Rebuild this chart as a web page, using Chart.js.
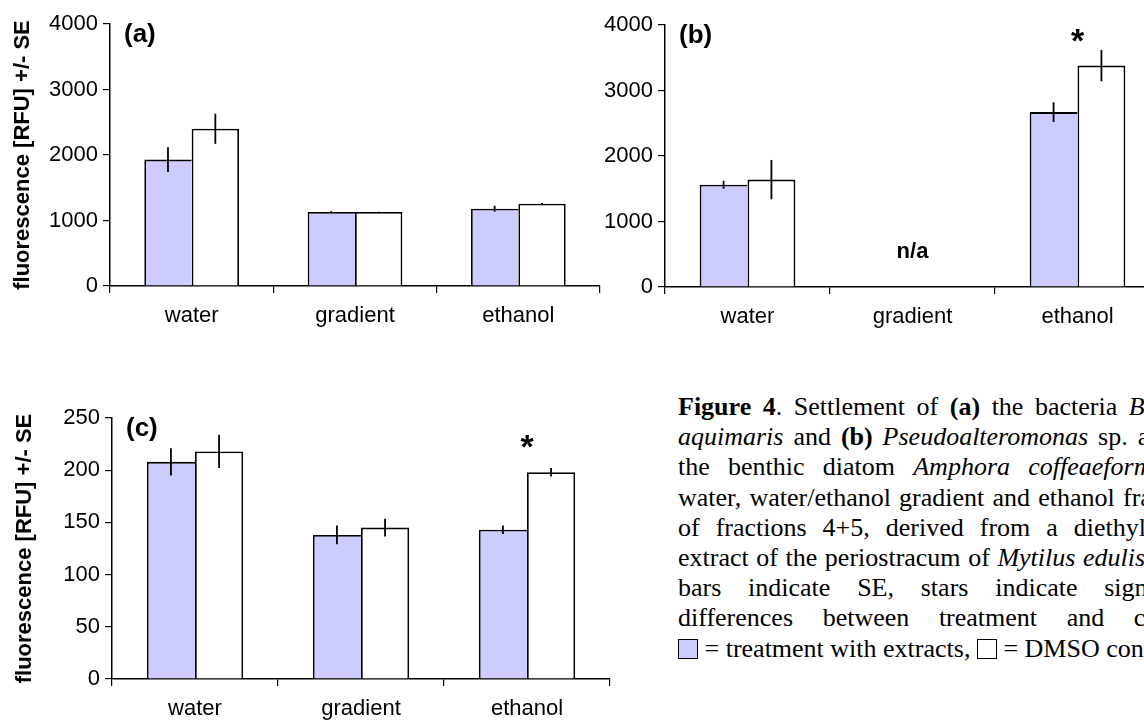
<!DOCTYPE html>
<html>
<head>
<meta charset="utf-8">
<script src="https://cdn.jsdelivr.net/npm/chart.js@4.4.1/dist/chart.umd.min.js"></script>
<style>
  html, body { margin: 0; padding: 0; background: #fff; }
  body { width: 1144px; height: 725px; overflow: hidden; position: relative; }
  canvas { position: absolute; }
  #chartA { left: 0px; top: 0px; }
  #chartB { left: 555px; top: 0px; }
  #chartC { left: 2px; top: 370px; }
  #caption {
    position: absolute; left: 678px; top: 392px; width: 536px;
    font-family: "Liberation Serif", "Times New Roman", serif; font-size: 26px; color: #000;
  }
  #caption .ln { height: 30.2px; line-height: 30.2px; text-align: justify; text-align-last: justify; }
  #caption .ln.last { text-align: left; text-align-last: left; }
  .box { display: inline-block; width: 20px; height: 20px; border: 1.5px solid #000; box-sizing: border-box; vertical-align: -2px; background: #fff; }
  .box.lav { background: #ccccff; }
</style>
</head>
<body>
<canvas id="chartA" width="620" height="345"></canvas>
<canvas id="chartB" width="615" height="345"></canvas>
<canvas id="chartC" width="630" height="355"></canvas>

<div id="caption">
  <div class="ln"><b>Figure 4</b>. Settlement of <b>(a)</b> the bacteria <i>Bacillus</i></div>
  <div class="ln"><i>aquimaris</i> and <b>(b)</b> <i>Pseudoalteromonas</i> sp. and <b>(c)</b></div>
  <div class="ln">the benthic diatom <i>Amphora coffeaeformis</i> on</div>
  <div class="ln">water, water/ethanol gradient and ethanol fractions</div>
  <div class="ln">of fractions 4+5, derived from a diethyl ether</div>
  <div class="ln">extract of the periostracum of <i>Mytilus edulis</i>. Error</div>
  <div class="ln">bars indicate SE, stars indicate significant</div>
  <div class="ln">differences between treatment and control.</div>
  <div class="ln last"><span class="box lav"></span> = treatment with extracts, <span class="box"></span> = DMSO control.</div>
</div>

<script>
const categories = ["water", "gradient", "ethanol"];

// (a) bacteria
const aTreatment = [1930, 1130, 1180];
const aTreatmentSE = [190, 12, 45];
const aControl = [2400, 1130, 1255];
const aControlSE = [230, 4, 12];

// (b) Pseudoalteromonas, no gradient fraction
const bTreatment = [1560, null, 2670];
const bTreatmentSE = [60, null, 150];
const bControl = [1640, null, 3380];
const bControlSE = [300, null, 240];
const bStars = ["", "", "*"];
const bNotes = ["", "n/a", ""];

// (c) diatom
const cTreatment = [208, 138, 143];
const cTreatmentSE = [13, 9, 4];
const cControl = [218, 145, 198];
const cControlSE = [16, 8.5, 4];
const cStars = ["", "", "*"];

const ticksAB = [0, 1000, 2000, 3000, 4000];
const ticksC = [0, 50, 100, 150, 200, 250];

const FONT = '"Liberation Sans", Arial, sans-serif';
Chart.defaults.font.family = FONT;
Chart.defaults.color = "#000";

const errorBars = {
  id: "errorBars",
  afterDatasetsDraw(chart) {
    const ctx = chart.ctx;
    const y = chart.scales.y;
    chart.data.datasets.forEach((ds, i) => {
      const meta = chart.getDatasetMeta(i);
      meta.data.forEach((bar, j) => {
        const v = ds.data[j];
        const e = ds.errors[j];
        if (v == null || e == null) return;
        ctx.save();
        ctx.strokeStyle = "#000";
        ctx.lineWidth = 1.8;
        ctx.beginPath();
        ctx.moveTo(bar.x, y.getPixelForValue(v + e));
        ctx.lineTo(bar.x, y.getPixelForValue(v - e));
        ctx.stroke();
        ctx.restore();
      });
    });
  },
};

const marks = {
  id: "marks",
  afterDraw(chart, args, opts) {
    const ctx = chart.ctx;
    const area = chart.chartArea;
    const x = chart.scales.x;
    const y = chart.scales.y;
    ctx.save();
    ctx.fillStyle = "#000";
    ctx.textBaseline = "alphabetic";
    // panel letter
    ctx.font = "bold 26px " + FONT;
    ctx.textAlign = "left";
    ctx.fillText(opts.label, area.left + 14, area.top + 18);
    ctx.textAlign = "center";
    // significance stars above the taller bar
    (opts.stars || []).forEach((s, i) => {
      if (!s) return;
      let top = 0;
      chart.data.datasets.forEach((ds) => {
        if (ds.data[i] != null) top = Math.max(top, ds.data[i]);
      });
      ctx.font = "bold 34px " + FONT;
      ctx.fillText(s, x.getPixelForValue(i), y.getPixelForValue(top) - 14);
    });
    (opts.notes || []).forEach((s, i) => {
      if (!s) return;
      ctx.font = "bold 22px " + FONT;
      ctx.fillText(s, x.getPixelForValue(i), y.getPixelForValue(0) - 29);
    });
    ctx.restore();
  },
};

function makeChart(id, treat, treatSE, ctrl, ctrlSE, yTicks, opt) {
  const ctx = document.getElementById(id).getContext("2d");
  const canvasH = ctx.canvas.height;
  return new Chart(ctx, {
    type: "bar",
    plugins: [errorBars, marks],
    data: {
      labels: categories,
      datasets: [
        {
          label: "treatment with extracts",
          data: treat,
          errors: treatSE,
          backgroundColor: "#ccccff",
          borderColor: "#000",
          // right edge is drawn by the neighbouring control bar
          borderWidth: { left: 1.8, top: 1.8, right: 0, bottom: 0 },
          borderSkipped: false,
        },
        {
          label: "DMSO control",
          data: ctrl,
          errors: ctrlSE,
          backgroundColor: "#ffffff",
          borderColor: "#000",
          borderWidth: { left: 1.8, top: 1.8, right: 1.8, bottom: 0 },
          borderSkipped: false,
        },
      ],
    },
    options: {
      responsive: false,
      animation: false,
      categoryPercentage: 0.58,
      barPercentage: 1.0,
      layout: { padding: { top: opt.top, right: opt.right, left: 0, bottom: 0 } },
      plugins: {
        legend: { display: false },
        tooltip: { enabled: false },
        marks: { label: opt.label, stars: opt.stars, notes: opt.notes },
      },
      scales: {
        x: {
          offset: true,
          grid: {
            offset: true,
            drawOnChartArea: false,
            drawTicks: true,
            tickLength: 7,
            color: "#000",
            lineWidth: 1.2,
          },
          border: { display: true, color: "#000", width: 1.5 },
          ticks: { color: "#000", padding: 10, font: { size: 22 } },
          afterFit(scale) {
            scale.height = canvasH - opt.bottom;
          },
        },
        y: {
          min: yTicks[0],
          max: yTicks[yTicks.length - 1],
          afterBuildTicks(scale) {
            scale.ticks = yTicks.map((v) => ({ value: v }));
          },
          grid: {
            drawOnChartArea: false,
            drawTicks: true,
            tickLength: 7,
            color: "#000",
            lineWidth: 1.2,
          },
          border: { display: true, color: "#000", width: 1.5 },
          ticks: {
            color: "#000",
            padding: 5,
            font: { size: 22 },
            callback: (v) => String(v),
          },
          title: {
            display: opt.title,
            text: "fluorescence [RFU] +/- SE",
            color: "#000",
            font: { size: 22, weight: "bold" },
            padding: { top: 10, bottom: 0 },
          },
          afterFit(scale) {
            scale.width = 110;
          },
        },
      },
    },
  });
}

makeChart("chartA", aTreatment, aTreatmentSE, aControl, aControlSE, ticksAB, {
  label: "(a)", title: true, top: 24, bottom: 286, right: 20,
});
makeChart("chartB", bTreatment, bTreatmentSE, bControl, bControlSE, ticksAB, {
  label: "(b)", title: false, top: 25, bottom: 287, right: 10, stars: bStars, notes: bNotes,
});
makeChart("chartC", cTreatment, cTreatmentSE, cControl, cControlSE, ticksC, {
  label: "(c)", title: true, top: 48, bottom: 309, right: 22, stars: cStars,
});
</script>
</body>
</html>
